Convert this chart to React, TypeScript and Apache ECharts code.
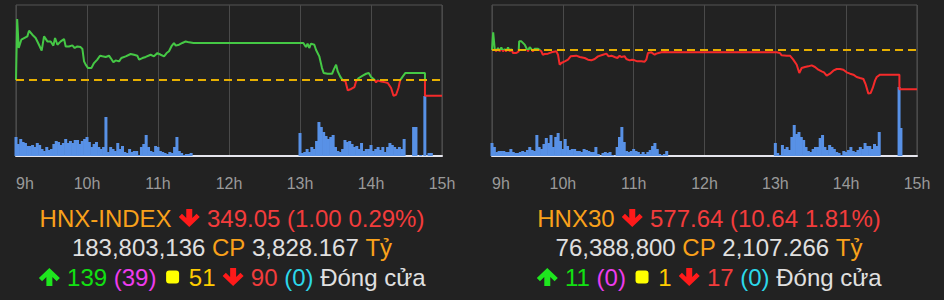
import React, { useEffect, useRef } from "react";
import * as echarts from "echarts";

// ---------- data ----------
const hourLabels = ["9h", "10h", "11h", "12h", "13h", "14h", "15h"];

// HNX-INDEX: [minutes since 9:00, index]
const hnxRef = 350.05;
const hnxRange = [345.21, 354.83];
const hnxPrice: [number, number][] = [
  [0, 350.05], [1, 353.94], [2.3, 352.09], [4.5, 352.62], [9.6, 352.83], [11, 353.19], [13.8, 352.94],
  [16.6, 352.73], [19.4, 352.3], [21.7, 351.92], [23.7, 352.83], [26.5, 352.51], [29.3, 352.51],
  [31.6, 352.24], [33, 352.73], [35, 352.3], [37.8, 352.51], [40.6, 352.66], [42, 352.19], [44.8, 352.19],
  [47.6, 352.26], [49.6, 352.09], [51.8, 352.19], [54.6, 352.15], [56.1, 352.03], [57.5, 351.24],
  [58.9, 351.03], [60.9, 350.81], [63.7, 350.81], [65.9, 351.13], [68.7, 351.35], [71, 351.6],
  [73, 351.56], [75.8, 351.52], [78.6, 351.6], [80, 351.45], [82.3, 351.18], [84.2, 351.3], [87.1, 351.24],
  [89, 351.45], [92.7, 351.56], [96.9, 351.71], [99.7, 351.66], [102.5, 351.6], [104, 351.35],
  [106.8, 351.45], [109.6, 351.52], [113.8, 351.66], [116.6, 351.56], [119.5, 351.77], [122.3, 351.66],
  [125.1, 351.56], [127.3, 351.77], [129.3, 351.88], [131.3, 352.19], [133.5, 352.41], [135, 352.24],
  [137.8, 352.3], [140.6, 352.41], [143.4, 352.51], [146.3, 352.45], [150, 352.41],
  [240, 352.41], [242.8, 352.41], [245, 352.15], [246.4, 352.37], [247.8, 352.09], [249.3, 352.37],
  [252.1, 352.3], [253.5, 351.98], [256.3, 351.56], [258.6, 350.81], [260, 350.5], [263.4, 350.45],
  [267.1, 350.45], [268.5, 350.71], [270.5, 351.03], [271.9, 350.6], [273.9, 350.28], [276.1, 350.03],
  [278.4, 349.97], [280.4, 349.39], [283.2, 349.48], [286, 349.6], [287.4, 349.97], [289.7, 350.18],
  [293, 350.33], [295.9, 350.45], [298.1, 350.5], [300.1, 350.24], [302.9, 350.07], [304.3, 349.9],
  [305.7, 350.03], [308.6, 349.95], [312.2, 349.9], [314.2, 349.86], [317, 349.54], [319, 349.05],
  [321.2, 349.11], [323.2, 349.54], [324.6, 350.03], [326.9, 350.28], [329.1, 350.5], [345.6, 350.5],
  [345.6, 349.05], [360, 349.05],
];
// volume (100k shares), one bar per 2 minutes
const hnxVolMorning = [
  19, 12, 17, 14, 13, 10, 10, 11, 9, 13, 11, 7, 5, 9, 6, 7, 12, 15, 14, 11, 13, 17, 13, 15, 13, 16, 16, 12,
  15, 17, 19, 14, 9, 12, 14, 9, 7, 9, 39, 4, 9, 7, 5, 13, 7, 10, 4, 3, 7, 4, 5, 5, 1, 9, 12, 21, 9, 5, 4,
  10, 9, 5, 4, 3, 2, 4, 3, 9, 19, 5, 3, 1, 2, 2, 3,
];
const hnxVolAfternoon = [
  23, 3, 4, 7, 4, 9, 7, 15, 34, 29, 24, 20, 17, 19, 21, 9, 5, 4, 7, 16, 14, 15, 12, 9, 10, 7, 13, 5, 7, 7,
  11, 5, 7, 9, 6, 9, 4, 9, 13, 11, 9, 7, 9, 7, 17,
];
const hnxVolClose: [number, number][] = [[336, 29], [338, 29], [342, 1], [345.5, 60], [349, 3], [351, 3]];

// HNX30
const hnx30Ref = 588.28;
const hnx30Range = [559.55, 600.48];
const hnx30Price: [number, number][] = [
  [0, 588.28], [1, 593.07], [2.3, 588.55], [3.5, 587.92], [5.1, 588.82], [6.5, 587.92], [7.9, 589.0],
  [9.3, 587.92], [10.7, 588.55], [12, 587.92], [13.6, 589.0], [15, 587.92], [16.4, 588.55], [17.8, 587.47],
  [20.6, 587.47], [22.6, 587.92], [23, 590.63], [24.9, 590.63], [27.7, 589.73], [29.1, 588.82],
  [30.5, 587.92], [31.9, 589.09], [33.3, 588.55], [34.7, 587.92], [36.1, 588.64], [39, 588.64],
  [41.8, 587.92], [43, 587.01], [44.6, 587.2], [47.4, 587.29], [50.3, 587.65], [54.5, 587.92],
  [55.9, 587.01], [57.3, 584.3], [58.7, 584.76], [61.6, 585.21], [64.4, 585.66], [66.6, 586.56],
  [71.4, 586.74], [74.3, 586.38], [78.5, 586.11], [81.3, 585.66], [84.1, 585.48], [87, 585.84],
  [89.8, 586.56], [94, 587.01], [96.9, 587.29], [98.8, 586.56], [101.1, 586.74], [103.9, 586.38],
  [106.2, 586.11], [108.1, 586.74], [109.5, 586.38], [112.4, 586.56], [113.8, 585.84], [116.6, 585.48],
  [118.6, 585.66], [120.8, 585.48], [123.1, 585.21], [126.5, 585.21], [129.3, 585.12], [130.7, 585.66],
  [132.1, 587.47], [135, 587.65], [137.8, 587.01], [139.2, 587.29], [141.2, 587.47], [143.4, 587.65],
  [146.3, 587.74], [149.1, 587.65], [150, 587.65],
  [241.1, 587.65], [243.9, 587.47], [245.4, 586.84], [249.6, 586.74], [252.4, 586.74], [255.2, 585.66],
  [258.1, 584.3], [260.3, 582.05], [262.3, 583.4], [265.1, 583.67], [267.9, 583.85], [270.8, 584.12],
  [273.6, 583.67], [276.4, 582.95], [279.2, 582.5], [281.2, 582.23], [283.5, 581.32], [286.3, 581.86],
  [289.1, 582.68], [292, 583.13], [294.8, 583.13], [297.6, 582.95], [300.4, 582.23], [303.3, 581.86],
  [306.1, 581.59], [308.9, 580.96], [311.7, 580.69], [314.6, 580.42], [316.6, 578.88], [318.8, 576.45],
  [320.8, 576.63], [322.5, 577.99], [324.5, 580.06], [325.9, 580.96], [328.7, 581.59], [345.1, 581.59],
  [345.1, 577.64], [360, 577.64],
];
const hnx30VolMorning = [
  13, 9, 4, 5, 5, 5, 4, 4, 7, 4, 3, 3, 4, 5, 4, 6, 9, 6, 5, 21, 9, 7, 12, 18, 13, 21, 9, 19, 23, 15, 7, 17,
  10, 6, 7, 7, 5, 5, 4, 7, 6, 5, 4, 4, 9, 2, 0.3, 3, 4, 3, 4, 1, 0.3, 9, 19, 29, 14, 5, 4, 5, 7, 5, 4, 2,
  4, 2, 4, 6, 10, 13, 7, 2, 1, 2, 5,
];
const hnx30VolAfternoon = [
  13, 3, 1, 11, 7, 9, 6, 19, 31, 22, 24, 19, 16, 9, 5, 4, 7, 9, 9, 18, 21, 9, 6, 11, 9, 7, 4, 3, 1, 5, 4,
  6, 9, 5, 4, 6, 9, 7, 13, 10, 10, 7, 12, 10, 24,
];
const hnx30VolClose: [number, number][] = [[344.8, 69], [346.4, 28]];

// summary texts
const hnxLine1 = ["HNX-INDEX", "349.05 (1.00 0.29%)"];
const hnxLine2 = ["183,803,136", "CP", "3,828.167", "Tỷ"];
const hnxLine3 = ["139", "(39)", "51", "90", "(0)", "Đóng cửa"];
const hnx30Line1 = ["HNX30", "577.64 (10.64 1.81%)"];
const hnx30Line2 = ["76,388,800", "CP", "2,107.266", "Tỷ"];
const hnx30Line3 = ["11", "(0)", "1", "17", "(0)", "Đóng cửa"];

// ---------- styles ----------
const FONT = '"Liberation Sans", Arial, Helvetica, sans-serif';
const FS = 24;
const BG = "#222222";
const GREEN = "#45c845";
const RED = "#f52a2a";
const REF = "#e8b000";
const VOL = "#5891e6";
const ORANGE = "#f9a11b";
const RED_TXT = "#f23c3c";
const GRAY_TXT = "#e0e0e0";
const GREEN_TXT = "#12e012";
const MAGENTA = "#ee3cee";
const YELLOW_TXT = "#ffcc00";
const CYAN = "#2cd8ea";

const svgUrl = (s: string) => "data:image/svg+xml;utf8," + encodeURIComponent(s);
const downArrow = svgUrl(
  '<svg xmlns="http://www.w3.org/2000/svg" width="22" height="18" viewBox="0 0 22 18"><polygon fill="#ff1a1a" points="8,0 14,0 14,9 18.3,4.7 21.5,8 11,18 0.5,8 3.7,4.7 8,9"/></svg>'
);
const upArrow = svgUrl(
  '<svg xmlns="http://www.w3.org/2000/svg" width="22" height="18" viewBox="0 0 22 18"><polygon fill="#1ee61e" points="8,18 14,18 14,9 18.3,13.3 21.5,10 11,0 0.5,10 3.7,13.3 8,9"/></svg>'
);
const square = svgUrl(
  '<svg xmlns="http://www.w3.org/2000/svg" width="19" height="18" viewBox="0 0 19 18"><rect x="3" y="2.5" width="13" height="13" rx="3" fill="#ffff00"/></svg>'
);

const tok = (fill: string) => ({ fill, fontSize: FS, fontFamily: FONT });
const rich = {
  o: tok(ORANGE),
  r: tok(RED_TXT),
  w: tok(GRAY_TXT),
  g: tok(GREEN_TXT),
  m: tok(MAGENTA),
  y: tok(YELLOW_TXT),
  c: tok(CYAN),
  dn: { width: 22, height: 18, backgroundColor: { image: downArrow } },
  up: { width: 22, height: 18, backgroundColor: { image: upArrow } },
  sq: { width: 19, height: 18, backgroundColor: { image: square } },
};

function volData(morning: number[], afternoon: number[], close: [number, number][]) {
  const out: [number, number][] = [];
  morning.forEach((v, i) => out.push([i * 2, v]));
  afternoon.forEach((v, i) => out.push([240 + i * 2, v]));
  close.forEach((p) => out.push(p));
  return out;
}

function textBlock(cx: number, l1: string[], l2: string[], l3: string[]) {
  const base = { fontSize: FS, fontFamily: FONT, align: "center", verticalAlign: "middle", rich, fill: GRAY_TXT };
  return [
    { type: "text", x: cx, y: 218, style: { ...base, text: `{o|${l1[0]}} {dn|} {r|${l1[1]}}` } },
    { type: "text", x: cx, y: 247, style: { ...base, text: `{w|${l2[0]}} {o|${l2[1]}} {w|${l2[2]}} {o|${l2[3]}}` } },
    {
      type: "text",
      x: cx,
      y: 277,
      style: {
        ...base,
        text: `{up|} {g|${l3[0]}} {m|${l3[1]}} {sq|} {y|${l3[2]}} {dn|} {r|${l3[3]}} {c|${l3[4]}} {w|${l3[5]}}`,
      },
    },
  ];
}

function xAxis(gridIndex: number) {
  return {
    type: "value",
    gridIndex,
    min: 0,
    max: 360,
    interval: 60,
    axisLine: { show: true, onZero: false, lineStyle: { color: "#e6e6ee", width: 2 } },
    axisTick: { show: false },
    splitLine: { show: true, lineStyle: { color: "#4a4a4a", width: 1 } },
    axisLabel: {
      color: "#9a9a9a",
      fontSize: 16,
      fontFamily: FONT,
      margin: 19,
      alignMinLabel: "left",
      formatter: (v: number) => hourLabels[Math.round(v / 60)],
    },
  };
}

export default function App() {
  const ref = useRef<HTMLDivElement>(null);
  useEffect(() => {
    if (!ref.current) return;
    const chart = echarts.init(ref.current, null, { renderer: "svg" });
    const priceLine = (xi: number, yi: number, data: [number, number][]) => ({
      type: "line",
      xAxisIndex: xi,
      yAxisIndex: yi,
      data,
      symbol: "none",
      showSymbol: false,
      lineStyle: { width: 2 },
      z: 3,
      silent: true,
    });
    const refLine = (xi: number, yi: number, v: number) => ({
      type: "line",
      xAxisIndex: xi,
      yAxisIndex: yi,
      data: [[0, v], [360, v]],
      symbol: "none",
      lineStyle: { color: REF, width: 2, type: [8, 5] },
      z: 4,
      silent: true,
    });
    const bars = (xi: number, yi: number, data: [number, number][]) => ({
      type: "bar",
      xAxisIndex: xi,
      yAxisIndex: yi,
      data,
      barWidth: 3,
      itemStyle: { color: VOL },
      z: 2,
      silent: true,
    });
    chart.setOption({
      animation: false,
      backgroundColor: BG,
      grid: [
        { left: 16, top: 5, width: 426, height: 151, show: true, borderColor: "#555", borderWidth: 1 },
        { left: 492, top: 5, width: 425, height: 151, show: true, borderColor: "#555", borderWidth: 1 },
      ],
      xAxis: [xAxis(0), xAxis(1)],
      yAxis: [
        { type: "value", gridIndex: 0, min: hnxRange[0], max: hnxRange[1], show: false },
        { type: "value", gridIndex: 0, min: 0, max: 151, show: false },
        { type: "value", gridIndex: 1, min: hnx30Range[0], max: hnx30Range[1], show: false },
        { type: "value", gridIndex: 1, min: 0, max: 151, show: false },
      ],
      visualMap: [
        {
          type: "piecewise",
          show: false,
          seriesIndex: 1,
          dimension: 1,
          pieces: [
            { gte: hnxRange[0] - 10, lt: hnxRef, color: RED },
            { gte: hnxRef, lte: hnxRange[1] + 10, color: GREEN },
          ],
        },
        {
          type: "piecewise",
          show: false,
          seriesIndex: 4,
          dimension: 1,
          pieces: [
            { gte: hnx30Range[0] - 10, lt: hnx30Ref, color: RED },
            { gte: hnx30Ref, lte: hnx30Range[1] + 10, color: GREEN },
          ],
        },
      ],
      series: [
        bars(0, 1, volData(hnxVolMorning, hnxVolAfternoon, hnxVolClose)),
        priceLine(0, 0, hnxPrice),
        refLine(0, 0, hnxRef),
        bars(1, 3, volData(hnx30VolMorning, hnx30VolAfternoon, hnx30VolClose)),
        priceLine(1, 2, hnx30Price),
        refLine(1, 2, hnx30Ref),
      ],
      graphic: [
        ...textBlock(232, hnxLine1, hnxLine2, hnxLine3),
        ...textBlock(709, hnx30Line1, hnx30Line2, hnx30Line3),
      ],
    });
    return () => chart.dispose();
  }, []);
  return <div ref={ref} style={{ position: "fixed", left: 0, top: 0, width: 944, height: 300 }} />;
}
